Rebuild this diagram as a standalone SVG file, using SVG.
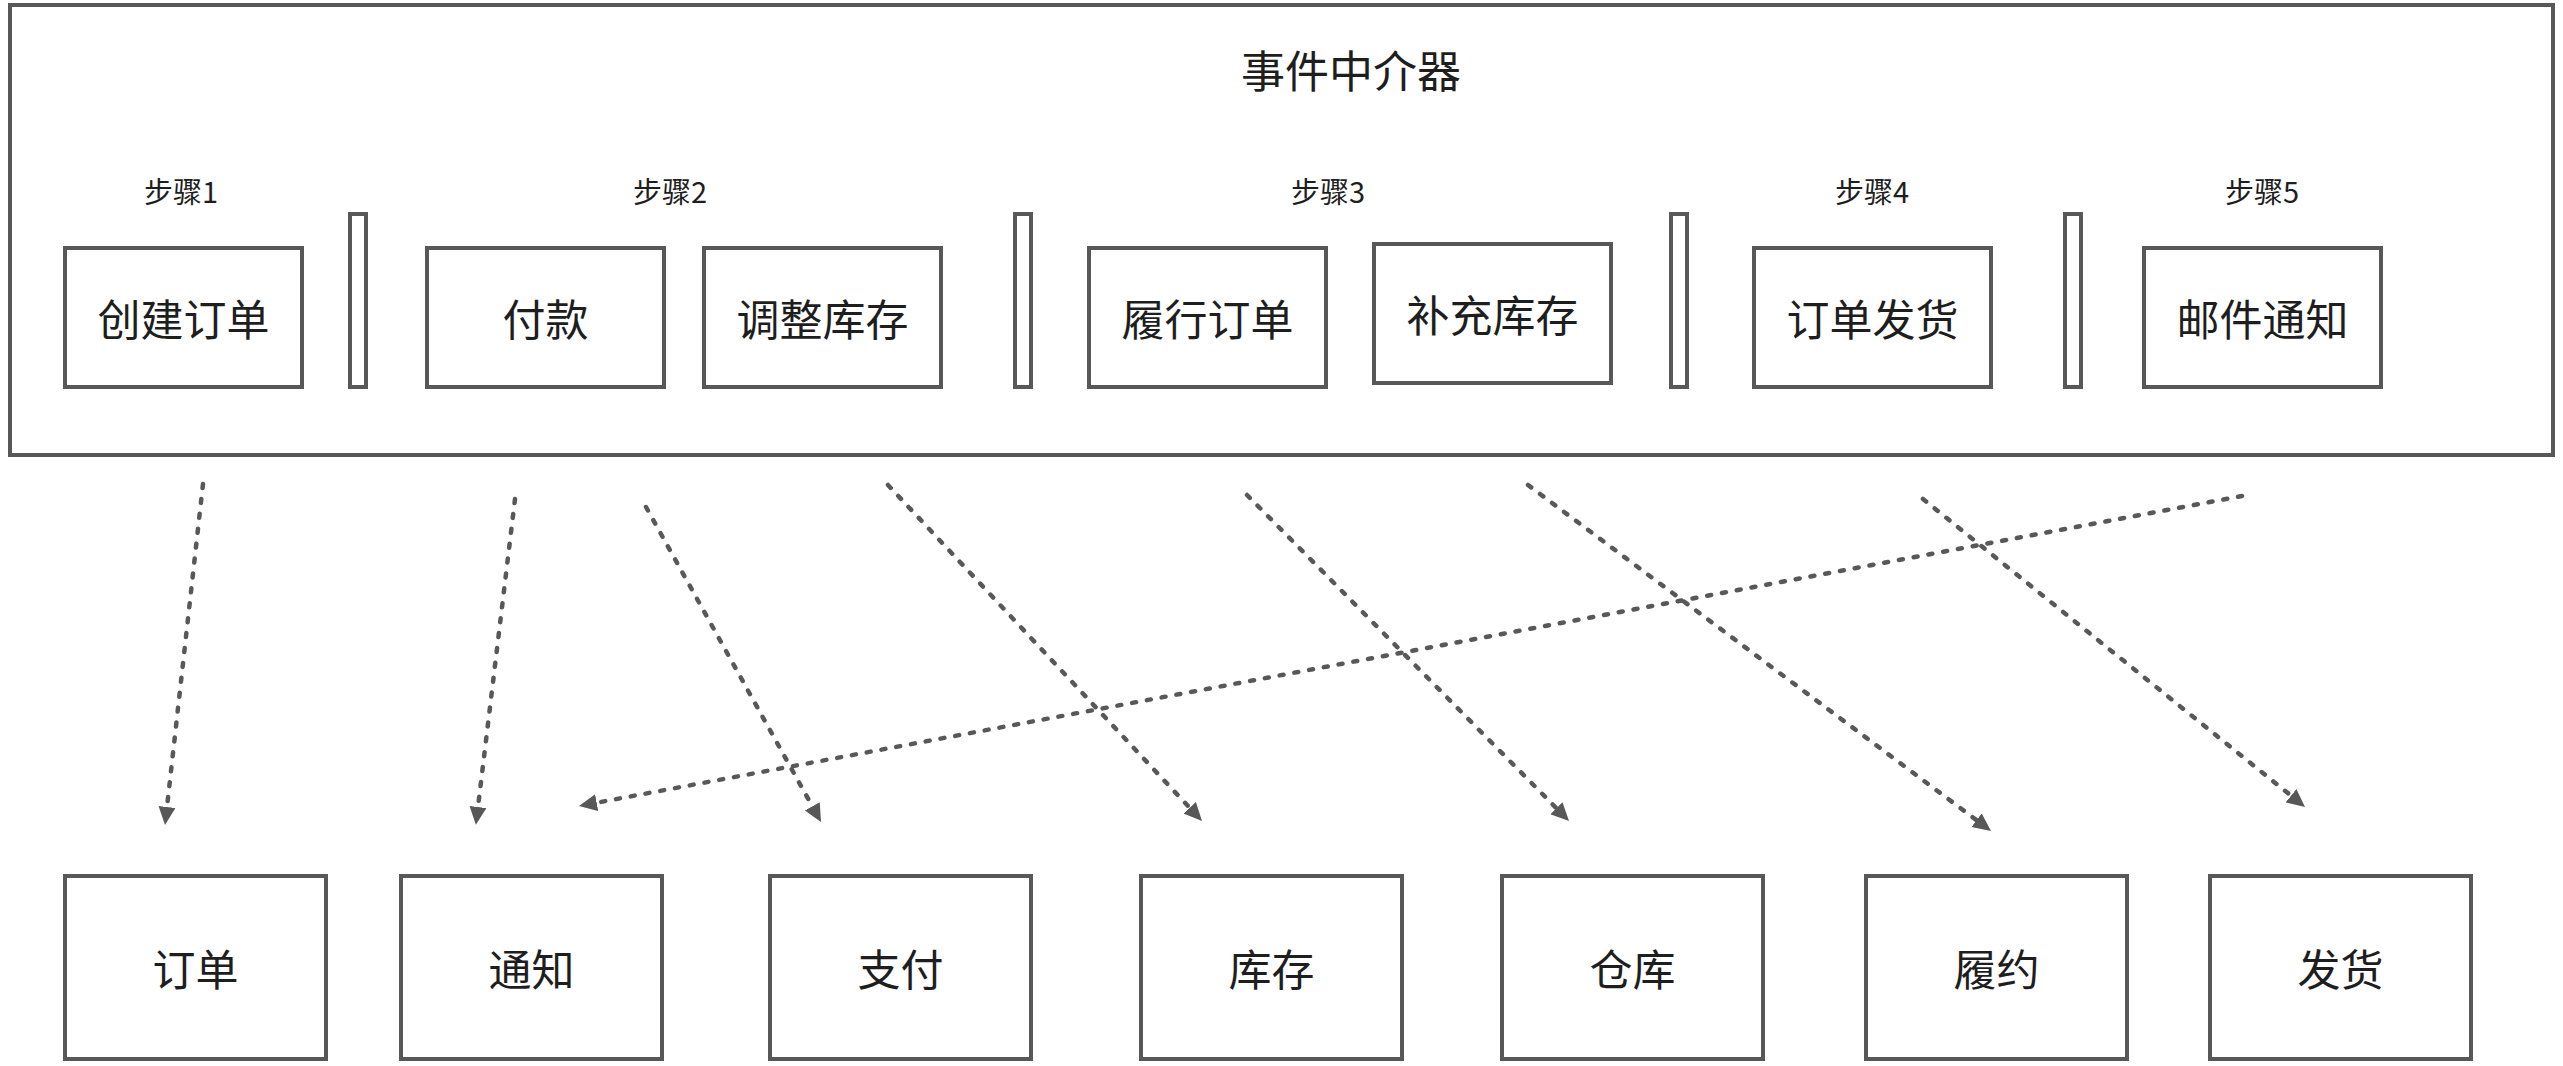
<svg xmlns="http://www.w3.org/2000/svg" width="2563" height="1066" viewBox="0 0 2563 1066">
<style>
.box{fill:#ffffff;stroke:#585858;stroke-width:4}
.div{fill:#ffffff;stroke:#585858;stroke-width:4}
.lbl{font-family:"Noto Sans CJK SC","Noto Sans",sans-serif;font-size:43px;fill:#1e1e1e;text-anchor:middle;dominant-baseline:central}
.title{font-size:44px}
.step{font-family:"Noto Sans CJK SC","Noto Sans",sans-serif;font-size:29px;fill:#1e1e1e;text-anchor:middle;dominant-baseline:central}
.conn{fill:none;stroke:#585858;stroke-width:4.5;stroke-dasharray:4 11;stroke-linecap:round}
</style>
<defs>
<marker id="ah" markerUnits="userSpaceOnUse" markerWidth="20" markerHeight="18" refX="0" refY="8.5" orient="auto">
<path d="M0,0 L18,8.5 L0,17 Z" fill="#585858"/>
</marker>
</defs>
<rect width="2563" height="1066" fill="#ffffff"/>
<g id="mediator">
<rect class="box" x="10" y="5" width="2543" height="450"/>
<text class="lbl title" x="1351" y="69">事件中介器</text>
</g>
<g id="steps">
<text class="step" x="181" y="190">步骤1</text>
<text class="step" x="670" y="190">步骤2</text>
<text class="step" x="1328" y="190">步骤3</text>
<text class="step" x="1872" y="190">步骤4</text>
<text class="step" x="2262" y="190">步骤5</text>
</g>
<g id="dividers">
<rect class="div" x="350" y="214" width="16" height="173"/>
<rect class="div" x="1015" y="214" width="16" height="173"/>
<rect class="div" x="1671" y="214" width="16" height="173"/>
<rect class="div" x="2065" y="214" width="16" height="173"/>
</g>
<g id="create-order"><rect class="box" x="65" y="248" width="237" height="139"/><text class="lbl" x="183.5" y="317">创建订单</text></g>
<g id="payment-step"><rect class="box" x="427" y="248" width="237" height="139"/><text class="lbl" x="545.5" y="317">付款</text></g>
<g id="adjust-inventory"><rect class="box" x="704" y="248" width="237" height="139"/><text class="lbl" x="822.5" y="317">调整库存</text></g>
<g id="fulfill-order"><rect class="box" x="1089" y="248" width="237" height="139"/><text class="lbl" x="1207.5" y="317">履行订单</text></g>
<g id="restock"><rect class="box" x="1374" y="244" width="237" height="139"/><text class="lbl" x="1492.5" y="313">补充库存</text></g>
<g id="ship-order"><rect class="box" x="1754" y="248" width="237" height="139"/><text class="lbl" x="1872.5" y="317">订单发货</text></g>
<g id="email-notify"><rect class="box" x="2144" y="248" width="237" height="139"/><text class="lbl" x="2262.5" y="317">邮件通知</text></g>
<g id="order"><rect class="box" x="65" y="876" width="261" height="183"/><text class="lbl" x="195.5" y="967">订单</text></g>
<g id="notification"><rect class="box" x="401" y="876" width="261" height="183"/><text class="lbl" x="531.5" y="967">通知</text></g>
<g id="pay"><rect class="box" x="770" y="876" width="261" height="183"/><text class="lbl" x="900.5" y="967">支付</text></g>
<g id="inventory"><rect class="box" x="1141" y="876" width="261" height="183"/><text class="lbl" x="1271.5" y="967">库存</text></g>
<g id="warehouse"><rect class="box" x="1502" y="876" width="261" height="183"/><text class="lbl" x="1632.5" y="967">仓库</text></g>
<g id="fulfillment"><rect class="box" x="1866" y="876" width="261" height="183"/><text class="lbl" x="1996.5" y="967">履约</text></g>
<g id="shipping"><rect class="box" x="2210" y="876" width="261" height="183"/><text class="lbl" x="2340.5" y="967">发货</text></g>
<g id="connectors">
<line class="conn" x1="203" y1="484" x2="167" y2="807" marker-end="url(#ah)"/>
<line class="conn" x1="515" y1="499" x2="478" y2="807" marker-end="url(#ah)"/>
<line class="conn" x1="646" y1="507" x2="812.3" y2="806.3" marker-end="url(#ah)"/>
<line class="conn" x1="888" y1="485" x2="1189.7" y2="807.8" marker-end="url(#ah)"/>
<line class="conn" x1="1247" y1="495" x2="1556.4" y2="808.2" marker-end="url(#ah)"/>
<line class="conn" x1="1528" y1="485" x2="1976.6" y2="820.2" marker-end="url(#ah)"/>
<line class="conn" x1="1923" y1="499" x2="2291" y2="795.7" marker-end="url(#ah)"/>
<line class="conn" x1="2242" y1="496" x2="596.7" y2="802.7" marker-end="url(#ah)"/>
</g>
</svg>
